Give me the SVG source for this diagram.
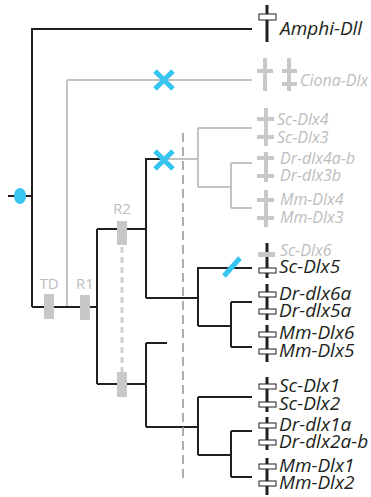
<svg xmlns="http://www.w3.org/2000/svg" width="371" height="497" viewBox="0 0 371 497">
<style>
.k{stroke:#231f20;stroke-width:2;fill:none}
.g{stroke:#c2c2c2;stroke-width:2;fill:none}
.bar{stroke:#231f20;stroke-width:3}
.wr{fill:#fff;stroke:#231f20;stroke-width:1}
.gr{fill:#c8c8c8}
.lk{font-family:"Open Sans",sans-serif;font-style:italic;font-size:19px;fill:#231f20}
.lg{font-family:"Open Sans",sans-serif;font-style:italic;font-size:16px;fill:#bdbdbd}
.ev{font-family:"Open Sans",sans-serif;font-size:15px;fill:#bdbdbd;text-anchor:middle}
.bl{stroke:#38c6f1;stroke-width:5;fill:none}
</style>
<rect width="371" height="497" fill="#fff"/>
<g id="connectors">
<path class="g" d="M67,80V307M67,80H252M163,159H198M198,128V187M198,128H252M198,187H231M231,163V208M231,163H252M231,208H252"/>
<path class="k" d="M32,29H252M32,28V307M8,196H32M32,307H97M97,229V384M97,229H146M97,384H146M146,158V298M146,159H163M146,298H198M198,267V326M198,268H252M198,326H231M231,302V347M231,302H252M231,347H252M146,343V427M146,343H167M146,427H198M198,397V455M198,397H252M198,455H231M231,431V477M231,431H252M231,477H252"/>
<line x1="122" y1="247" x2="122" y2="372" stroke="#cfcfcf" stroke-width="3" stroke-dasharray="6,4"/>
<line x1="183" y1="133" x2="183" y2="482" stroke="#9a9a9a" stroke-width="1.6" stroke-dasharray="9,5"/>
</g>
<g id="duplication-marker">
<ellipse cx="20" cy="196" rx="6" ry="8" fill="#38c6f1"/>
</g>
<g id="loss-ciona">
<path class="bl" d="M155,71L173,89M173,71L155,89"/>
</g>
<g id="loss-dlx34">
<path class="bl" d="M155,151L173,169M173,151L155,169"/>
</g>
<g id="loss-scdlx5">
<path class="bl" d="M224,276L240,258"/>
</g>
<g id="TD">
<rect class="gr" x="44" y="294" width="10" height="25"/>
<text class="ev" x="49" y="289">TD</text>
</g>
<g id="R1">
<rect class="gr" x="80" y="295" width="10" height="25"/>
<text class="ev" x="85" y="289">R1</text>
</g>
<g id="R2">
<rect class="gr" x="117" y="221" width="10" height="24"/>
<text class="ev" x="122" y="214">R2</text>
</g>
<g id="R2b">
<rect class="gr" x="117" y="372" width="10" height="25"/>
</g>
<g id="Amphi-Dll">
<line class="bar" x1="267" y1="5" x2="267" y2="42"/>
<rect class="wr" x="259" y="14" width="17" height="6"/>
<text class="lk" x="280" y="35" font-size="20">Amphi-Dll</text>
</g>
<g id="Ciona-Dlx">
<rect class="gr" x="263" y="58" width="4" height="33"/>
<rect class="gr" x="257" y="69" width="16" height="4"/>
<rect class="gr" x="287" y="58" width="4" height="33"/>
<rect class="gr" x="282" y="69" width="15" height="4"/>
<rect class="gr" x="282" y="82" width="15" height="4"/>
<text class="lg" x="300" y="86">Ciona-Dlx</text>
</g>
<g id="Sc-Dlx4-3">
<rect class="gr" x="264" y="108" width="4" height="38"/>
<rect class="gr" x="257" y="117" width="17" height="4"/>
<rect class="gr" x="257" y="135" width="17" height="4"/>
<text class="lg" x="277" y="125">Sc-Dlx4</text>
<text class="lg" x="277" y="143">Sc-Dlx3</text>
</g>
<g id="Dr-dlx4-3">
<rect class="gr" x="264" y="152" width="4" height="30"/>
<rect class="gr" x="257" y="156" width="17" height="4"/>
<rect class="gr" x="257" y="174" width="17" height="4"/>
<text class="lg" x="280" y="164">Dr-dlx4a-b</text>
<text class="lg" x="280" y="181">Dr-dlx3b</text>
</g>
<g id="Mm-Dlx4-3">
<rect class="gr" x="264" y="190" width="4" height="37"/>
<rect class="gr" x="257" y="198" width="17" height="4"/>
<rect class="gr" x="257" y="216" width="17" height="4"/>
<text class="lg" x="280" y="205">Mm-Dlx4</text>
<text class="lg" x="280" y="223">Mm-Dlx3</text>
</g>
<g id="Sc-Dlx6-5">
<line class="bar" x1="267" y1="243" x2="267" y2="278"/>
<rect class="gr" x="258" y="252" width="17" height="5"/>
<rect class="wr" x="259" y="268" width="17" height="5"/>
<text class="lg" x="280" y="256">Sc-Dlx6</text>
<text class="lk" x="279" y="273">Sc-Dlx5</text>
</g>
<g id="Dr-dlx6-5">
<line class="bar" x1="267" y1="284" x2="267" y2="320"/>
<rect class="wr" x="259" y="292" width="17" height="5"/>
<rect class="wr" x="259" y="309" width="17" height="5"/>
<text class="lk" x="279" y="300">Dr-dlx6a</text>
<text class="lk" x="279" y="317">Dr-dlx5a</text>
</g>
<g id="Mm-Dlx6-5">
<line class="bar" x1="267" y1="325" x2="267" y2="362"/>
<rect class="wr" x="259" y="332" width="17" height="5"/>
<rect class="wr" x="259" y="349" width="17" height="5"/>
<text class="lk" x="279" y="339">Mm-Dlx6</text>
<text class="lk" x="279" y="357">Mm-Dlx5</text>
</g>
<g id="Sc-Dlx1-2">
<line class="bar" x1="267" y1="377" x2="267" y2="412"/>
<rect class="wr" x="259" y="384" width="17" height="5"/>
<rect class="wr" x="259" y="402" width="17" height="5"/>
<text class="lk" x="279" y="392">Sc-Dlx1</text>
<text class="lk" x="279" y="410">Sc-Dlx2</text>
</g>
<g id="Dr-dlx1-2">
<line class="bar" x1="267" y1="417" x2="267" y2="450"/>
<rect class="wr" x="259" y="423" width="17" height="5"/>
<rect class="wr" x="259" y="440" width="17" height="5"/>
<text class="lk" x="279" y="431">Dr-dlx1a</text>
<text class="lk" x="279" y="448">Dr-dlx2a-b</text>
</g>
<g id="Mm-Dlx1-2">
<line class="bar" x1="267" y1="458" x2="267" y2="495"/>
<rect class="wr" x="259" y="464" width="17" height="5"/>
<rect class="wr" x="259" y="481" width="17" height="5"/>
<text class="lk" x="279" y="472">Mm-Dlx1</text>
<text class="lk" x="279" y="489">Mm-Dlx2</text>
</g>
</svg>
